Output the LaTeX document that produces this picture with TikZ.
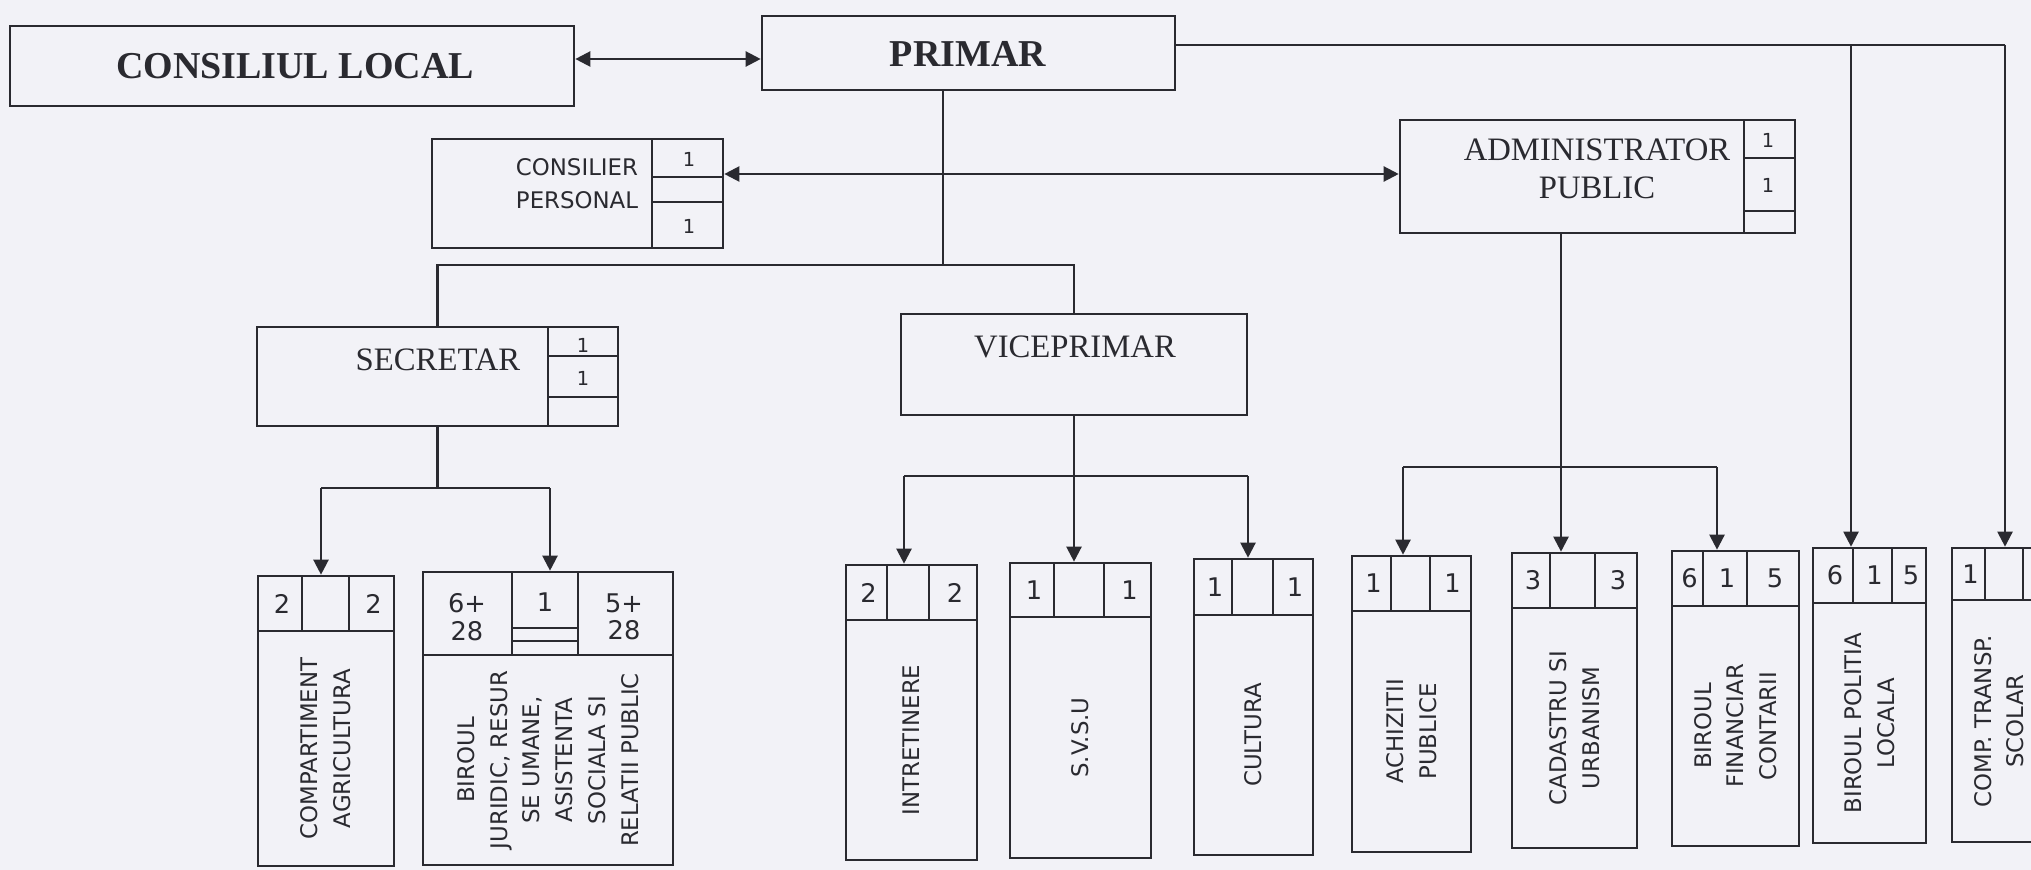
\documentclass[tikz,border=0pt]{standalone}
\usepackage{fontspec}
\setmainfont{Liberation Serif}
\newfontfamily\dejavu{DejaVu Sans}
\usetikzlibrary{arrows.meta,fit}
\definecolor{ink}{RGB}{42,42,48}
\definecolor{paper}{RGB}{242,242,247}
\tikzset{
  box/.style={draw=ink, line width=0.75pt, inner sep=0pt},
  cellline/.style={draw=ink, line width=0.7pt},
  conn/.style={draw=ink, line width=0.65pt},
  arrow/.style={conn, -{Triangle[length=0.15cm,width=0.15cm]}},
  darrow/.style={conn, {Triangle[length=0.15cm,width=0.15cm]}-{Triangle[length=0.15cm,width=0.15cm]}},
  bigtxt/.style={font=\bfseries\fontsize{10.8}{12}\selectfont, text=ink, inner sep=0pt},
  sertxt/.style={font=\fontsize{9.3}{10.8}\selectfont, text=ink, inner sep=0pt, align=center},
  sanstxt/.style={font=\dejavu\fontsize{6.5}{9.4}\selectfont, text=ink, inner sep=0pt, align=center},
  vlabel/.style={rotate=90, font=\dejavu\fontsize{6.5}{9.3}\selectfont, text=ink, inner sep=0pt, align=center},
  num/.style={font=\dejavu\fontsize{7.3}{7.8}\selectfont, text=ink, inner sep=0pt, align=center},
  smallnum/.style={font=\dejavu\fontsize{5.5}{6}\selectfont, text=ink, inner sep=0pt},
}
\newcommand\orgunit[9]{%
  \node[box, fit={(#2,#3) (#4,#6)}] (#1) {};
  \draw[cellline] (#2,#5) -- (#4,#5) (#7,#3) -- (#7,#5) (#8,#3) -- (#8,#5);
  \node[vlabel] (#1-t) at ({(#2+#4)/2},{(#5+#6)/2}) {#9};
  \xdef\oux{#2}\xdef\ouy{#3}\xdef\oue{#4}\xdef\ouh{#5}\xdef\oua{#7}\xdef\oub{#8}%
}
\newcommand\orgnums[4]{%
  \if\relax\detokenize{#2}\relax\else\node[num] (#1-a) at ({(\oux+\oua)/2+2},{(\ouy+\ouh)/2}) {#2};\fi
  \if\relax\detokenize{#3}\relax\else\node[num] (#1-b) at ({(\oua+\oub)/2+2},{(\ouy+\ouh)/2}) {#3};\fi
  \if\relax\detokenize{#4}\relax\else\node[num] (#1-c) at ({(\oub+\oue)/2+2},{(\ouy+\ouh)/2}) {#4};\fi
}
\begin{document}
\begin{tikzpicture}[x=0.01cm,y=-0.01cm]
\useasboundingbox (0,0) rectangle (2031,870);
\clip (0,0) rectangle (2031,870);
\fill[paper] (0,0) rectangle (2031,870);

% ---- top level ----
\node[box, fit={(10,26) (574,106)}] (cl) {};
\node[bigtxt] (cl-t) at (295,66) {CONSILIUL LOCAL};
\node[box, fit={(762,16) (1175,90)}] (pr) {};
\node[bigtxt] (pr-t) at (968,54) {PRIMAR};

% ---- consilier personal ----
\node[box, fit={(432,139) (723,248)}] (cons) {};
\draw[cellline] (652,139) -- (652,248) (652,177) -- (723,177) (652,202) -- (723,202);
\node[sanstxt] (cons-t) at (577,184) {CONSILIER\\PERSONAL};
\node[smallnum] (cons-a) at (689,159) {1};
\node[smallnum] (cons-b) at (689,226) {1};

% ---- administrator public ----
\node[box, fit={(1400,120) (1795,233)}] (adm) {};
\draw[cellline] (1744,120) -- (1744,233) (1744,158) -- (1795,158) (1744,211) -- (1795,211);
\node[sertxt] (adm-t) at (1597,169) {ADMINISTRATOR\\PUBLIC};
\node[smallnum] (adm-a) at (1768,140) {1};
\node[smallnum] (adm-b) at (1768,185) {1};

% ---- secretar ----
\node[box, fit={(257,327) (618,426)}] (sec) {};
\draw[cellline] (548,327) -- (548,426) (548,356) -- (618,356) (548,397) -- (618,397);
\node[sertxt] (sec-t) at (438,360) {SECRETAR};
\node[smallnum] (sec-a) at (583,345) {1};
\node[smallnum] (sec-b) at (583,378) {1};

% ---- viceprimar ----
\node[box, fit={(901,314) (1247,415)}] (vice) {};
\node[sertxt] (vice-t) at (1075,347) {VICEPRIMAR};

% ---- lower units ----
\orgunit{agri}{258}{576}{394}{631}{866}{302}{349}{COMPARTIMENT\\AGRICULTURA}
\orgnums{agri}{2}{}{2}
\orgunit{jur}{423}{572}{673}{655}{865}{512}{578}{BIROUL\\JURIDIC, RESUR\\SE UMANE,\\ASISTENTA\\SOCIALA SI\\RELATII PUBLIC}
\draw[cellline] (512,628) -- (578,628) (512,641) -- (578,641);
\node[num] (jur-a) at (467,617) {6+\\28};
\node[num] (jur-b) at (545,602) {1};
\node[num] (jur-c) at (624,617) {5+\\28};
\orgunit{intr}{846}{565}{977}{620}{860}{887}{929}{INTRETINERE}
\orgnums{intr}{2}{}{2}
\orgunit{svsu}{1010}{563}{1151}{617}{858}{1054}{1104}{S.V.S.U}
\orgnums{svsu}{1}{}{1}
\orgunit{cult}{1194}{559}{1313}{615}{855}{1232}{1273}{CULTURA}
\orgnums{cult}{1}{}{1}
\orgunit{achz}{1352}{556}{1471}{611}{852}{1391}{1430}{ACHIZITII\\PUBLICE}
\orgnums{achz}{1}{}{1}
\orgunit{cad}{1512}{553}{1637}{608}{848}{1550}{1595}{CADASTRU SI\\URBANISM}
\orgnums{cad}{3}{}{3}
\orgunit{fin}{1672}{551}{1799}{606}{846}{1703}{1747}{BIROUL\\FINANCIAR\\CONTARII}
\orgnums{fin}{6}{1}{5}
\orgunit{pol}{1813}{548}{1926}{603}{843}{1853}{1892}{BIROUL POLITIA\\LOCALA}
\orgnums{pol}{6}{1}{5}
\orgunit{comp}{1952}{548}{2046}{600}{842}{1985}{2023}{COMP. TRANSP.\\SCOLAR}
\orgnums{comp}{1}{}{}

% ---- connectors ----
\coordinate (clp) at (0,59);
\draw[darrow] (cl.east |- clp) -- (pr.west |- clp);

\coordinate (tr) at (2005,45);
\coordinate (tp) at (1851,45);
\draw[conn] (pr.east |- tr) -- (tr);
\draw[arrow] (tr) -- (tr |- comp.north);
\draw[arrow] (tp) -- (tp |- pol.north);

\coordinate (pj) at (943,265);
\draw[conn] (pr.south -| pj) -- (pj);
\draw[conn] (sec.north) |- (pj) -| (vice.north);

\coordinate (ca) at (0,174);
\draw[darrow] (cons.east |- ca) -- (adm.west |- ca);

\coordinate (sa) at (321,488);
\coordinate (sb) at (550,488);
\draw[conn] (sec.south) -- (sec.south |- sa);
\draw[conn] (sa) -- (sb);
\draw[arrow] (sa) -- (sa |- agri.north);
\draw[arrow] (sb) -- (sb |- jur.north);

\coordinate (va) at (904,476);
\coordinate (vc) at (1248,476);
\draw[conn] (vice.south) -- (vice.south |- va);
\draw[conn] (va) -- (vc);
\draw[arrow] (va) -- (va |- intr.north);
\draw[arrow] (vice.south |- va) -- (vice.south |- svsu.north);
\draw[arrow] (vc) -- (vc |- cult.north);

\coordinate (aa) at (1403,467);
\coordinate (aj) at (1561,467);
\coordinate (ac) at (1717,467);
\draw[conn] (adm.south -| aj) -- (aj);
\draw[conn] (aa) -- (ac);
\draw[arrow] (aa) -- (aa |- achz.north);
\draw[arrow] (aj) -- (aj |- cad.north);
\draw[arrow] (ac) -- (ac |- fin.north);
\end{tikzpicture}
\end{document}
